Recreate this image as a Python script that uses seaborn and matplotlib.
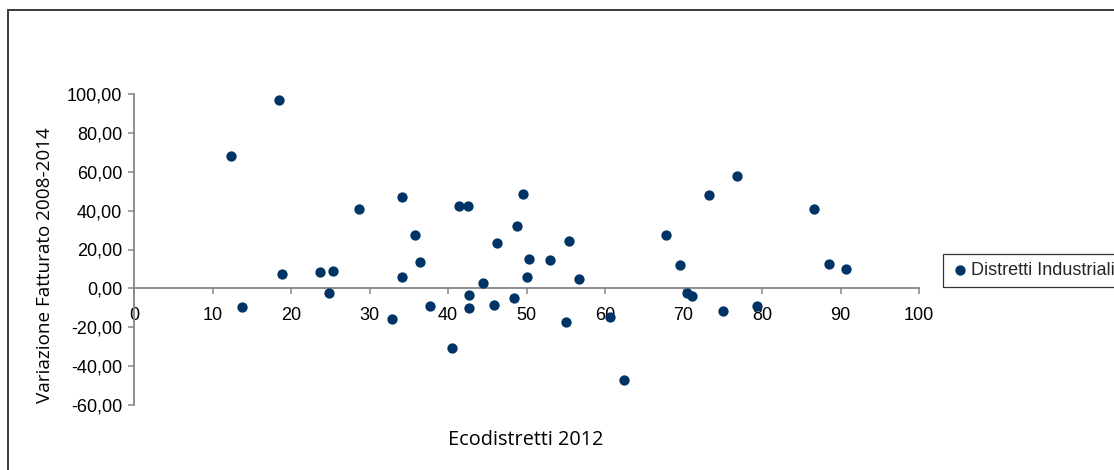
import matplotlib
matplotlib.use("Agg")
import matplotlib.pyplot as plt
import matplotlib.patches as mpatches
from matplotlib.ticker import FuncFormatter
import seaborn as sns
import pandas as pd

# Ecodistretti 2012 score per district
ecodistretti_2012 = [
    12.4, 18.5, 18.8, 13.8, 23.7, 25.3, 24.8, 32.9, 28.6,
    34.2, 35.8, 36.4, 34.2, 37.7, 40.5, 41.4, 42.6, 42.7, 42.7,
    44.5, 45.8, 46.2, 48.4, 48.8, 49.5, 50.3, 50.1, 53.0, 55.4,
    55.0, 56.7, 60.6, 62.4, 67.8, 69.6, 70.4, 71.1, 73.2, 75.0,
    76.8, 86.6, 88.5, 90.7, 79.4,
]
# Revenue change 2008-2014 (%)
variazione_fatturato = [
    68.2, 97.0, 7.4, -9.4, 8.2, 9.1, -2.4, -15.5, 40.8,
    47.1, 27.6, 13.6, 5.7, -9.3, -30.5, 42.5, 42.5, -3.2, -10.3,
    2.8, -8.4, 23.1, -4.9, 32.1, 48.8, 15.3, 5.7, 14.6, 24.2,
    -17.3, 4.8, -14.6, -47.1, 27.6, 11.8, -2.2, -4.1, 48.0, -11.8,
    57.6, 40.8, 12.5, 10.1, -9.3,
]
series_name = "Distretti Industriali"
x_label = "Ecodistretti 2012"
y_label = "Variazione Fatturato 2008-2014"
x_ticks = list(range(0, 101, 10))
y_ticks = list(range(-60, 101, 20))

df = pd.DataFrame({"x": ecodistretti_2012, "y": variazione_fatturato})

sns.set_theme(style="white")
plt.rcParams["font.family"] = ["Liberation Sans", "DejaVu Sans"]

W, H = 1114, 470
fig = plt.figure(figsize=(W / 100, H / 100), dpi=100)
fig.patch.set_facecolor("white")

# chart area frame
frame = mpatches.Rectangle((8 / W, -0.2), 1.2, 1 - 10 / H + 0.2,
                           transform=fig.transFigure, fill=False,
                           edgecolor="#3a3a3a", linewidth=1.4, zorder=0)
fig.patches.append(frame)

ax = fig.add_axes([134 / W, 1 - 405 / H, (919 - 134) / W, (405 - 94) / H])
ax.set_facecolor("none")

sns.scatterplot(data=df, x="x", y="y", ax=ax, color="#003366",
                s=55, linewidth=0, label=series_name, zorder=3)

ax.set_xlim(0, 100)
ax.set_ylim(-60, 100)
ax.set_xticks(x_ticks)
ax.set_yticks(y_ticks)
ax.yaxis.set_major_formatter(FuncFormatter(lambda v, p: f"{v:.2f}".replace(".", ",")))
ax.xaxis.set_major_formatter(FuncFormatter(lambda v, p: f"{int(v)}"))

for side in ("top", "right"):
    ax.spines[side].set_visible(False)
ax.spines["bottom"].set_position(("data", 0))
for side in ("left", "bottom"):
    ax.spines[side].set_color("#868686")
    ax.spines[side].set_linewidth(1.3)

ax.tick_params(axis="both", which="major", direction="out", length=4.5,
               width=1.1, color="#868686", labelsize=13, labelcolor="black",
               left=True, bottom=True)
ax.tick_params(axis="x", pad=9)
ax.tick_params(axis="y", pad=4)
ax.set_xlabel("")
ax.set_ylabel("")

fig.text(526 / W, 1 - 440 / H, x_label, ha="center", va="center",
         fontsize=14.3, family=["Open Sans", "DejaVu Sans"], color="black")
fig.text(45 / W, 1 - 265 / H, y_label, ha="center", va="center", rotation=90,
         fontsize=13.6, family=["Open Sans", "DejaVu Sans"], color="black")

leg = ax.legend(loc="upper left", bbox_to_anchor=(943 / W, 1 - 254 / H),
                bbox_transform=fig.transFigure, frameon=True, fancybox=False,
                fontsize=13, borderpad=0.45, handletextpad=0.1,
                handlelength=1.0, borderaxespad=0, markerscale=1.0)
leg.get_frame().set_edgecolor("black")
leg.get_frame().set_linewidth(0.9)

fig.savefig("out.png", dpi=100, facecolor="white")
